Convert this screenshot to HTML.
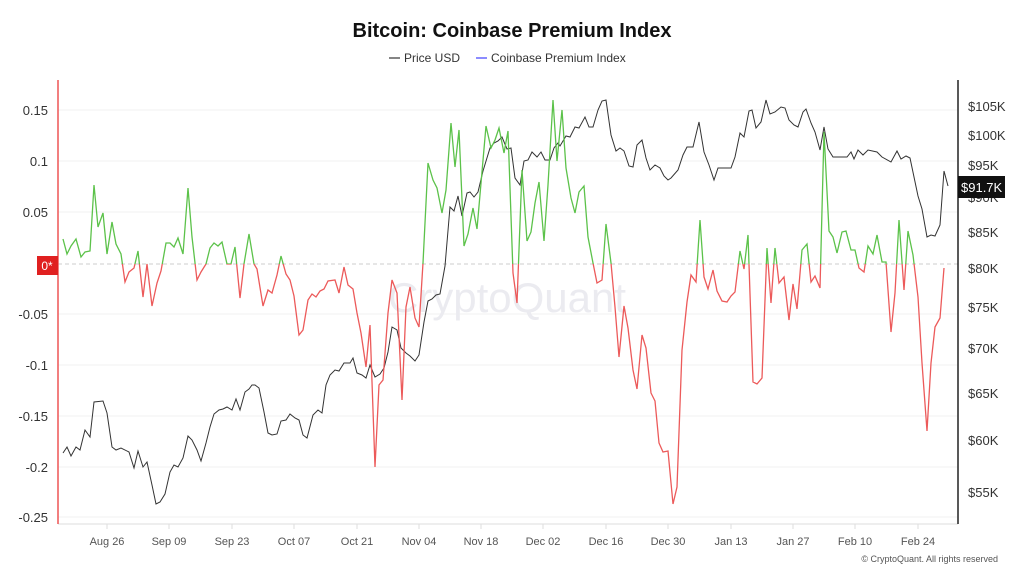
<!DOCTYPE html>
<html><head><meta charset="utf-8"><style>
body{margin:0;background:#fff;font-family:"Liberation Sans",sans-serif}
</style></head><body>
<svg width="1024" height="576" xmlns="http://www.w3.org/2000/svg" font-family="Liberation Sans, sans-serif">
<defs>
<clipPath id="up"><rect x="58" y="0" width="900" height="264"/></clipPath>
<clipPath id="dn"><rect x="58" y="264" width="900" height="300"/></clipPath>
</defs>
<text x="512" y="37" text-anchor="middle" font-size="20" font-weight="bold" fill="#111">Bitcoin: Coinbase Premium Index</text>
<line x1="389" y1="58" x2="400" y2="58" stroke="#333" stroke-width="1.2"/>
<text x="404" y="62" font-size="12" fill="#333">Price USD</text>
<line x1="476" y1="58" x2="487" y2="58" stroke="#4040ff" stroke-width="1.2"/>
<text x="491" y="62" font-size="12" fill="#333">Coinbase Premium Index</text>
<g stroke="#f2f2f2" stroke-width="1">
<line x1="58" y1="110" x2="958" y2="110"/><line x1="58" y1="161" x2="958" y2="161"/><line x1="58" y1="212" x2="958" y2="212"/>
<line x1="58" y1="314" x2="958" y2="314"/><line x1="58" y1="365" x2="958" y2="365"/><line x1="58" y1="416" x2="958" y2="416"/>
<line x1="58" y1="467" x2="958" y2="467"/><line x1="58" y1="517" x2="958" y2="517"/>
</g>
<line x1="58" y1="264" x2="958" y2="264" stroke="#ccc" stroke-dasharray="4,3"/>
<line x1="58" y1="524" x2="958" y2="524" stroke="#ddd"/>
<g stroke="#ddd">
<line x1="107" y1="524" x2="107" y2="529"/><line x1="169" y1="524" x2="169" y2="529"/><line x1="232" y1="524" x2="232" y2="529"/><line x1="294" y1="524" x2="294" y2="529"/><line x1="357" y1="524" x2="357" y2="529"/><line x1="419" y1="524" x2="419" y2="529"/><line x1="481" y1="524" x2="481" y2="529"/><line x1="543" y1="524" x2="543" y2="529"/><line x1="606" y1="524" x2="606" y2="529"/><line x1="668" y1="524" x2="668" y2="529"/><line x1="731" y1="524" x2="731" y2="529"/><line x1="793" y1="524" x2="793" y2="529"/><line x1="855" y1="524" x2="855" y2="529"/><line x1="918" y1="524" x2="918" y2="529"/>
</g>
<text x="507" y="312" text-anchor="middle" font-size="42" fill="#ebebf0">CryptoQuant</text>
<line x1="58" y1="80" x2="58" y2="524" stroke="#e55" stroke-width="1.5"/>
<line x1="958" y1="80" x2="958" y2="524" stroke="#222" stroke-width="1.5"/>
<g font-size="13" fill="#333" text-anchor="end">
<text x="48" y="115">0.15</text><text x="48" y="166">0.1</text><text x="48" y="217">0.05</text>
<text x="48" y="319">-0.05</text><text x="48" y="370">-0.1</text><text x="48" y="421">-0.15</text><text x="48" y="472">-0.2</text><text x="48" y="522">-0.25</text>
</g>
<rect x="37" y="256" width="21" height="19" fill="#e02020"/>
<text x="47" y="270" text-anchor="middle" font-size="12" fill="#fff">0*</text>
<g font-size="13" fill="#333">
<text x="968" y="111">$105K</text><text x="968" y="140">$100K</text><text x="968" y="170">$95K</text><text x="968" y="202">$90K</text>
<text x="968" y="237">$85K</text><text x="968" y="273">$80K</text><text x="968" y="312">$75K</text><text x="968" y="353">$70K</text>
<text x="968" y="398">$65K</text><text x="968" y="445">$60K</text><text x="968" y="497">$55K</text>
</g>
<rect x="958" y="176" width="47" height="22" fill="#111"/>
<text x="961" y="192" font-size="13" fill="#fff">$91.7K</text>
<g font-size="11" fill="#555" text-anchor="middle">
<text x="107" y="545">Aug 26</text><text x="169" y="545">Sep 09</text><text x="232" y="545">Sep 23</text><text x="294" y="545">Oct 07</text><text x="357" y="545">Oct 21</text><text x="419" y="545">Nov 04</text><text x="481" y="545">Nov 18</text><text x="543" y="545">Dec 02</text><text x="606" y="545">Dec 16</text><text x="668" y="545">Dec 30</text><text x="731" y="545">Jan 13</text><text x="793" y="545">Jan 27</text><text x="855" y="545">Feb 10</text><text x="918" y="545">Feb 24</text>
</g>
<text x="998" y="562" text-anchor="end" font-size="9" fill="#555">© CryptoQuant. All rights reserved</text>
<polyline fill="none" stroke="#333" stroke-width="1" points="63,453 67,447 71,456 76,447 80,450 85,430 90,437 94,402 103,401 107,413 112,447 116,450 121,448 129,452 134,468 138,451 143,467 147,462 152,485 156,504 160,502 165,494 170,472 174,465 178,467 183,458 188,436 192,440 197,450 201,461 206,443 210,427 214,414 219,410 223,409 227,407 232,410 236,399 240,410 245,392 249,389 252,385 255,385 259,388 264,412 268,433 272,435 277,434 281,421 286,420 290,414 295,418 299,420 303,435 307,438 313,415 318,410 322,413 326,385 330,375 335,370 339,371 344,363 350,363 353,358 357,373 362,375 366,378 370,365 375,377 380,374 384,368 388,352 392,327 397,330 401,348 406,353 410,356 415,361 419,355 424,322 428,301 432,299 436,295 440,294 445,266 450,207 454,211 458,196 462,216 467,193 470,192 474,197 478,192 483,171 490,148 494,143 498,141 502,137 507,149 511,148 515,178 520,185 524,161 528,160 532,152 537,157 541,152 545,160 550,160 554,148 558,143 560,146 566,136 570,137 575,127 579,128 585,117 589,127 593,127 598,110 602,101 606,100 611,135 616,151 620,148 624,151 629,166 633,167 637,145 642,140 646,158 650,170 655,165 660,168 664,176 668,180 671,178 678,170 683,155 687,147 693,147 699,122 704,152 709,165 714,180 718,168 722,168 731,168 735,157 740,133 744,137 749,111 752,110 756,128 761,122 766,100 770,114 775,112 781,107 785,108 789,120 794,125 798,127 803,112 806,109 811,123 815,132 820,150 824,127 828,149 833,157 847,157 851,152 854,159 858,150 863,155 868,150 877,152 882,157 891,162 897,151 901,159 906,156 910,158 918,196 922,209 927,237 931,235 935,236 940,225 944,171 948,186"/>
<g id="prem">
<polyline id="pl" fill="none" stroke-width="1.3" points="63,239 67,254 71,246 76,239 81,257 85,252 90,251 94,185 98,227 103,213 107,254 112,222 116,244 121,254 125,282 129,272 134,268 138,251 143,297 147,264 152,306 157,283 161,271 166,243 170,243 174,247 178,238 183,254 188,188 192,237 197,280 201,272 206,264 210,248 214,243 218,246 222,242 227,264 231,264 235,247 240,298 244,264 249,234 254,264 257,269 263,306 268,290 272,293 277,275 281,256 286,274 290,280 294,296 299,335 303,330 308,300 312,294 316,297 320,291 324,289 328,281 335,280 339,293 344,267 348,285 353,289 357,313 361,333 366,367 370,325 375,467 379,385 383,380 388,313 392,280 397,293 402,400 406,307 410,287 415,318 419,327 423,263 428,163 433,180 437,188 442,213 446,190 451,123 455,167 459,130 464,246 468,234 473,208 477,229 486,126 491,148 495,140 499,128 504,153 508,131 513,273 517,303 522,170 527,241 531,232 535,203 539,182 544,241 548,185 553,100 557,161 562,110 566,168 571,198 575,213 579,192 584,186 588,237 593,263 597,283 602,280 606,224 611,263 615,307 619,357 624,306 628,328 633,370 637,389 642,335 646,348 651,393 655,401 659,443 663,452 668,451 673,504 677,487 682,350 687,302 691,275 696,282 700,220 704,277 708,289 713,270 717,291 722,301 727,302 731,296 735,292 740,251 744,269 748,235 753,382 757,384 762,378 767,248 771,303 775,248 779,283 784,277 789,320 793,284 797,309 802,250 807,244 811,282 815,276 820,288 824,132 829,231 833,237 837,253 842,232 846,231 851,250 855,250 859,268 864,272 868,246 873,254 877,235 882,262 886,262 891,332 895,293 899,220 904,290 908,231 913,255 918,297 922,363 927,431 931,363 935,327 940,318 944,268"/>
</g>
<use href="#pl" stroke="#5cc24a" clip-path="url(#up)"/>
<use href="#pl" stroke="#ec5a5a" clip-path="url(#dn)"/>
</svg>
</body></html>
